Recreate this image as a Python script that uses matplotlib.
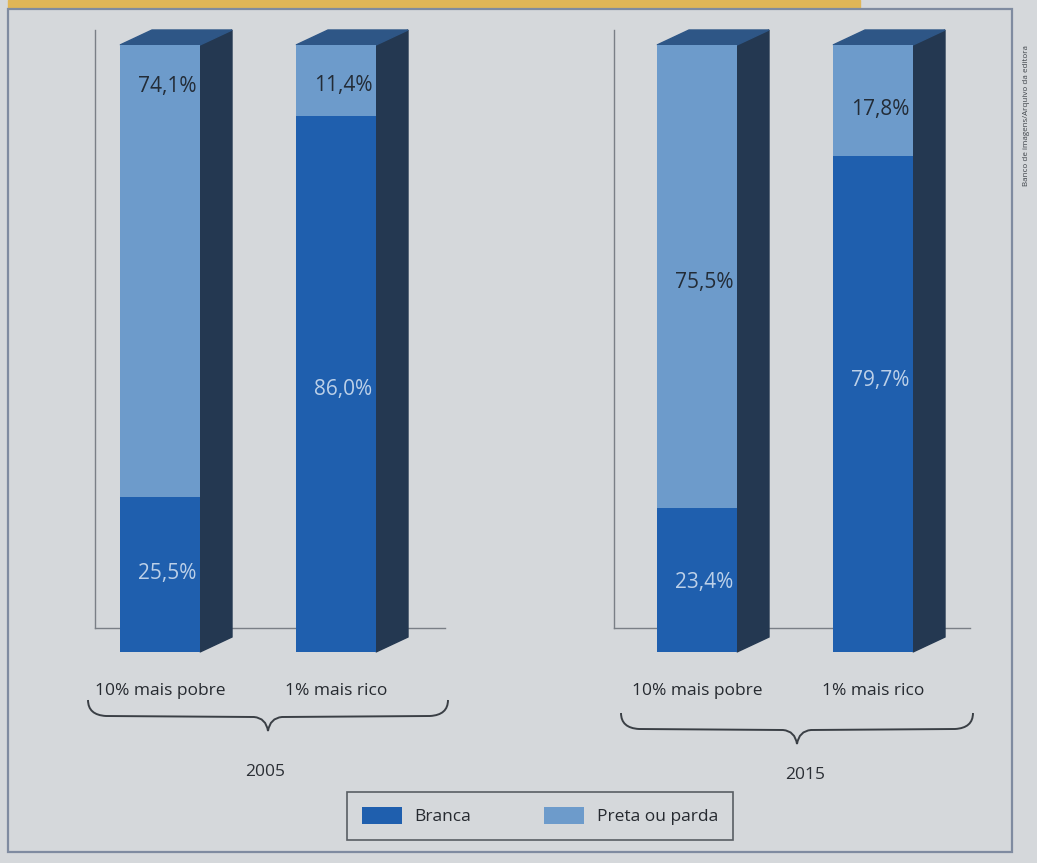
import matplotlib.pyplot as plt
from matplotlib.patches import Polygon, Rectangle, PathPatch
from matplotlib.path import Path

plt.rcParams['font.family'] = ['Open Sans', 'DejaVu Sans']

# dados
anos = ['2005', '2015']
grupos = ['10% mais pobre', '1% mais rico']
branca = [[25.5, 86.0], [23.4, 79.7]]
preta = [[74.1, 11.4], [75.5, 17.8]]
rotulos_branca = [['25,5%', '86,0%'], ['23,4%', '79,7%']]
rotulos_preta = [['74,1%', '11,4%'], ['75,5%', '17,8%']]

# altura (em %) onde cada rótulo fica na barra
pos_branca = [[13.0, 43.2], [11.4, 44.8]]
pos_preta = [[93.1, 93.4], [60.8, 89.3]]

c_branca = '#1f5fae'
c_preta = '#6d9bcb'
c_lado = '#243851'
c_topo = '#2e5686'
c_fundo = '#d5d8db'

W, H = 1037, 863
fig = plt.figure(figsize=(W / 100, H / 100), dpi=100)
fig.patch.set_facecolor(c_fundo)

# camada de fundo em pixels (moldura, chaves, anos)
bg = fig.add_axes([0, 0, 1, 1], zorder=0)
bg.set_xlim(0, W)
bg.set_ylim(H, 0)
bg.axis('off')
bg.add_patch(Rectangle((8, 0), 852, 8, color='#e0b657', zorder=1))
bg.add_patch(Rectangle((8, 9), 1004, 843, fill=False, edgecolor='#7f8ba0', lw=1.6, zorder=2))
bg.text(1026, 115, 'Banco de imagens/Arquivo da editora', rotation=90, fontsize=5.8,
        color='#3f444a', ha='center', va='center')


def chave(x0, x1, y):
    xm = (x0 + x1) / 2
    verts = [(x0, y - 15), (x0, y), (x0 + 18, y + 1), (xm - 14, y + 2), (xm - 2, y + 3),
             (xm, y + 16), (xm + 2, y + 3), (xm + 14, y + 2), (x1 - 18, y + 1), (x1, y),
             (x1, y - 15)]
    codes = [Path.MOVETO, Path.CURVE3, Path.CURVE3, Path.LINETO, Path.CURVE3, Path.CURVE3,
             Path.CURVE3, Path.CURVE3, Path.LINETO, Path.CURVE3, Path.CURVE3]
    bg.add_patch(PathPatch(Path(verts, codes), fill=False, edgecolor='#3a3f45', lw=1.4))


chave(88, 448, 715)
chave(621, 973, 728)
bg.text(265, 772, anos[0], fontsize=12.5, color='#2b2f35', ha='center', va='center')
bg.text(805, 775, anos[1], fontsize=12.5, color='#2b2f35', ha='center', va='center')

# painéis com as barras
px_unit = 176.0
esquerdas = [95, 614]
centro0 = [160, 697]
largura_px = [350, 356]
base_px = 652
topo_px = 45
larg = 80 / px_unit
dx = 32 / px_unit
dy = 15 / ((base_px - topo_px) / 100)

handles = None
for k in range(2):
    ax = fig.add_axes([esquerdas[k] / W, 1 - base_px / H, largura_px[k] / W,
                       (base_px - topo_px) / H], zorder=2)
    xl = -(centro0[k] - esquerdas[k]) / px_unit
    ax.set_xlim(xl, xl + largura_px[k] / px_unit)
    ax.set_ylim(0, 100)
    ax.patch.set_alpha(0)
    for s in ax.spines.values():
        s.set_visible(False)
    ax.set_yticks([])
    ax.set_xticks([0, 1])
    ax.set_xticklabels(grupos, fontsize=12.5, color='#262a30')
    ax.tick_params(axis='x', length=0, pad=22)

    # "chão" e eixo vertical
    ax.plot([xl, xl], [4, 102.5], color='#7a7f86', lw=1, clip_on=False, zorder=0)
    ax.plot([xl, xl + largura_px[k] / px_unit], [4, 4], color='#7a7f86', lw=1,
            clip_on=False, zorder=0)

    tot = [branca[k][i] + preta[k][i] for i in range(2)]
    b = [branca[k][i] / tot[i] * 100 for i in range(2)]
    p = [preta[k][i] / tot[i] * 100 for i in range(2)]
    hb = ax.bar([0, 1], b, width=larg, color=c_branca, zorder=3, label='Branca')
    hp = ax.bar([0, 1], p, bottom=b, width=larg, color=c_preta, zorder=3,
                label='Preta ou parda')
    handles = [hb, hp]
    for i in range(2):
        xr = i + larg / 2
        xa = i - larg / 2
        ax.add_patch(Polygon([(xr, 0), (xr + dx, dy), (xr + dx, 100 + dy), (xr, 100)],
                             closed=True, color=c_lado, zorder=2, clip_on=False))
        ax.add_patch(Polygon([(xa, 100), (xr, 100), (xr + dx, 100 + dy), (xa + dx, 100 + dy)],
                             closed=True, color=c_topo, zorder=2, clip_on=False))
        ax.text(i + 0.04, pos_branca[k][i], rotulos_branca[k][i], ha='center', va='center',
                fontsize=15, color='#bcd0e8', zorder=4)
        ax.text(i + 0.04, pos_preta[k][i], rotulos_preta[k][i], ha='center', va='center',
                fontsize=15, color='#232c37', zorder=4)

leg = fig.legend(handles, ['Branca', 'Preta ou parda'], loc='center',
                 bbox_to_anchor=(540 / W, 1 - 816 / H), ncol=2, fontsize=12.5,
                 frameon=True, fancybox=False, edgecolor='#3a3f45', facecolor='none',
                 handlelength=2.3, handleheight=1.1, handletextpad=0.75,
                 columnspacing=4.2, borderpad=0.85, borderaxespad=0)
leg.get_frame().set_linewidth(1.2)
for t in leg.get_texts():
    t.set_color('#262a30')

fig.savefig('out.png', dpi=100, facecolor=fig.get_facecolor())
